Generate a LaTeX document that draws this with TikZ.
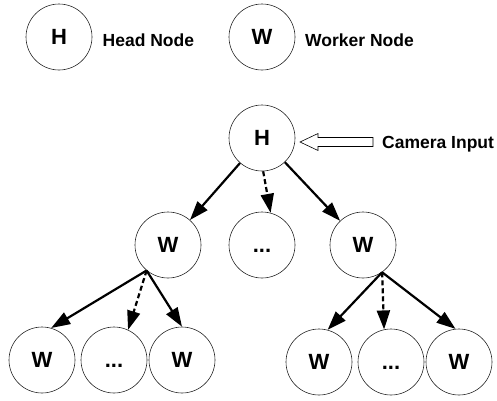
\documentclass[tikz,border=0pt]{standalone}
\usepackage{fontspec}
\setmainfont{Liberation Sans}
\usetikzlibrary{arrows.meta}

\tikzset{
  proc/.style={circle, draw=black!85, line width=0.6pt, minimum size=66pt, inner sep=0pt,
               font=\fontsize{22}{22}\selectfont\bfseries},
  lbl/.style={anchor=base west, inner sep=0pt, font=\fontsize{17.5}{17.5}\selectfont\bfseries},
  link/.style={line width=2.2pt, -{Triangle[length=19pt,width=13pt]}},
  dlink/.style={link, dash pattern=on 5pt off 3pt}
}
\newcommand{\more}{\vphantom{W}...}

\begin{document}
\begin{tikzpicture}[x=1pt, y=-1pt]

\def \xleft   {168}
\def \xmid    {262}
\def \xright  {363}

\def \ylegend {37}
\def \yhead   {138}
\def \ymid    {245}
\def \ybot    {360}

\useasboundingbox (0,0) rectangle (497,400);

% legend
\node [proc] (legH) at (59, \ylegend) {H};
\node [lbl] (legHtext) at (102.5, 46) {Head Node};
\node [proc] (legW) at (\xmid, \ylegend) {W};
\node [lbl] (legWtext) at (305, 46) {Worker Node};

% head node and its input
\node [proc] (head) at (\xmid, \yhead) {H};
\node [lbl] (camera) at (382, 148) {Camera Input};
\draw [line width=0.6pt] (373, 137.5) -- (318, 137.5) -- (318, 133.5) -- (300, 142)
  -- (318, 150.5) -- (318, 146.5) -- (373, 146.5) -- cycle;

% first level
\node [proc] (wl)   at (\xleft, \ymid)  {W};
\node [proc] (dots) at (\xmid, \ymid)   {\more};
\node [proc] (wr)   at (\xright, \ymid) {W};

% second level
\node [proc] (wla)   at (42, \ybot)  {W};
\node [proc] (dotsl) at (114, \ybot) {\more};
\node [proc] (wlb)   at (182, \ybot) {W};
\node [proc] (wra)   at (319, \ybot+2) {W};
\node [proc] (dotsr) at (391, \ybot+2) {\more};
\node [proc] (wrb)   at (459, \ybot+2) {W};

% connections
\draw [link]  (head) -- (wl);
\draw [dlink] (head.-88) -- (dots.75);
\draw [link]  (head) -- (wr);

\draw [link]  (wl.-130) -- (wla.74);
\draw [dlink] (wl.-130) -- (dotsl.65);
\draw [link]  (wl.-130) -- (wlb.90);

\draw [link]  (wr.-55) -- (wra.75);
\draw [dlink] (wr.-55) -- (dotsr.102);
\draw [link]  (wr.-55) -- (wrb.96);

\end{tikzpicture}
\end{document}
